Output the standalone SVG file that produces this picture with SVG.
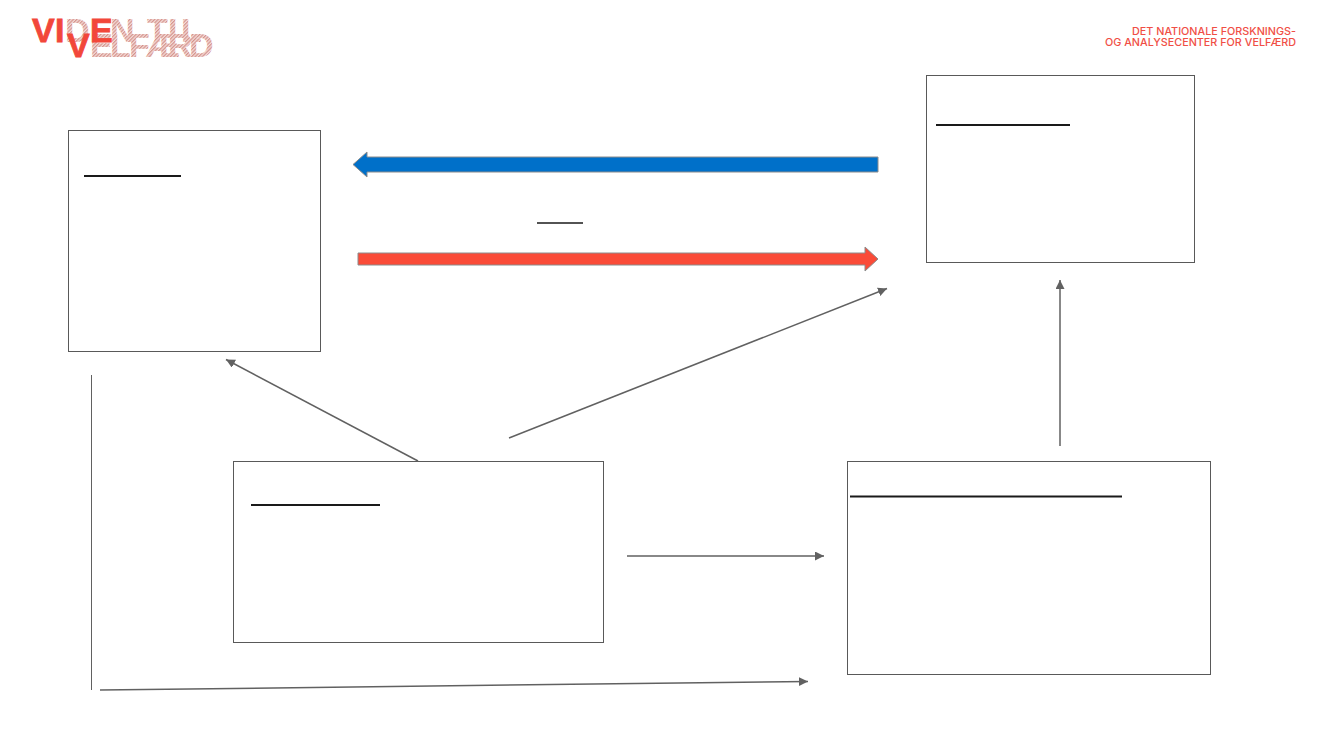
<svg xmlns="http://www.w3.org/2000/svg" width="1333" height="750" viewBox="0 0 1333 750">
<style>
.box{fill:#fff;stroke:#595959;stroke-width:1}
.ul{stroke:#1a1a1a;stroke-width:2;fill:none}
.conn{stroke:#616161;stroke-width:1.500;fill:none;marker-end:url(#ah)}
.logo{font-family:"Liberation Sans",sans-serif;font-weight:700;font-size:34px}
.solid{fill:#f2473a;stroke:#f2473a;stroke-width:.8}
.hat{fill:url(#hatch)}
.org{font-family:Inter,"Liberation Sans",sans-serif;font-size:10.500px;fill:#f04e45;text-anchor:end;font-weight:500}
</style>
<defs>
<marker id="ah" markerUnits="userSpaceOnUse" markerWidth="10" markerHeight="10" refX="9" refY="4.500" orient="auto"><path d="M0 0L9 4.500L0 9Z" fill="#616161"/></marker>
<pattern id="hatch" width="2.500" height="2.500" patternUnits="userSpaceOnUse" patternTransform="rotate(45)"><rect width="2.500" height="2.500" fill="#f3dcd8"/><rect width="1.200" height="2.500" fill="#d5918b"/></pattern>
</defs>
<rect width="1333" height="750" fill="#fff"/>
<g id="logo">
<text class="logo hat" y="57" x="90 110 129 146 168 189">ELFÆRD</text>
<text class="logo" y="42"><tspan class="solid" x="32">V</tspan><tspan class="solid" x="55">I</tspan><tspan class="hat" x="65">D</tspan><tspan class="solid" x="90">E</tspan><tspan class="hat" x="110">N</tspan><tspan class="hat" x="147 168 181">TIL</tspan></text>
<text class="logo solid" y="57" x="67">V</text>
</g>
<g id="org">
<text class="org" x="1296" y="34.500" textLength="164" lengthAdjust="spacingAndGlyphs">DET NATIONALE FORSKNINGS-</text>
<text class="org" x="1296" y="46" textLength="191" lengthAdjust="spacingAndGlyphs">OG ANALYSECENTER FOR VELFÆRD</text>
</g>
<g id="node-left"><rect class="box" x="68.500" y="130.500" width="252" height="221"/><path class="ul" d="M84 176H181"/></g>
<g id="node-topright"><rect class="box" x="926.500" y="75.500" width="268" height="187"/><path class="ul" d="M936 125H1070"/></g>
<g id="node-center"><rect class="box" x="233.500" y="461.500" width="370" height="181"/><path class="ul" d="M251 505H380"/></g>
<g id="node-bottomright"><rect class="box" x="847.500" y="461.500" width="363" height="213"/><path class="ul" d="M850 496.500H1122"/></g>
<g id="center-label"><path class="ul" style="stroke-width:1.500" d="M537 223H583"/></g>
<g id="connectors">
<path d="M878 157H367V152L353 164.500L367 177V172H878Z" fill="#0070c9" stroke="#8c8c8c" stroke-width="1"/>
<path d="M358 253H865V247L878 259L865 271V265H358Z" fill="#fa4b38" stroke="#8c8c8c" stroke-width="1"/>
<path class="conn" d="M418 461L226 359.500"/>
<path class="conn" d="M509 438L887 288.500"/>
<path class="conn" d="M1060 446V280"/>
<path class="conn" d="M627 556H824"/>
<path d="M91.500 375V690" stroke="#616161" stroke-width="1" fill="none"/>
<path class="conn" d="M100 690L808 681.500"/>
</g>
</svg>
